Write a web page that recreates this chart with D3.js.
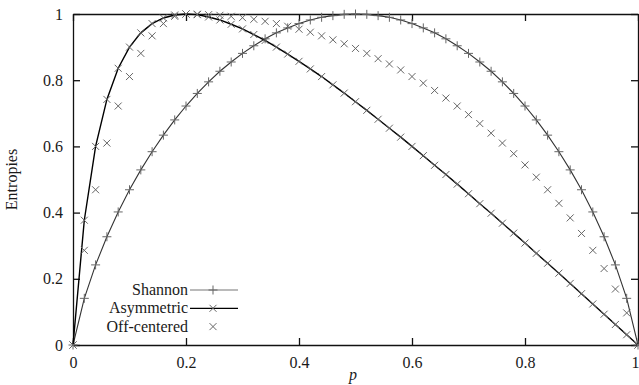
<!DOCTYPE html>
<html>
<head>
<meta charset="utf-8">
<script src="https://cdn.jsdelivr.net/npm/d3@7"></script>
<style>
  body { margin: 0; background: #fff; }
  svg { display: block; }
  .axis path, .axis line { stroke: #111; stroke-width: 1.3; }
</style>
</head>
<body>
<div id="chart"></div>
<script>
// sample positions p = 0, 0.02, ... 1
const pValues = d3.range(0, 51).map(i => i / 50);

const shannon = [0, .141, .242, .327, .402, .469, .529, .584, .634, .680,
  .722, .760, .795, .827, .855, .881, .904, .925, .943, .958,
  .971, .982, .990, .995, .999, 1, .999, .995, .990, .982,
  .971, .958, .943, .925, .904, .881, .855, .827, .795, .760,
  .722, .680, .634, .584, .529, .469, .402, .327, .242, .141, 0];

const asymmetric = [0, .377, .600, .742, .836, .900, .943, .971, .988, .997,
  1, .998, .991, .982, .969, .955, .938, .920, .900, .879,
  .857, .834, .811, .786, .761, .735, .709, .682, .655, .628,
  .600, .572, .543, .515, .486, .457, .427, .398, .368, .338,
  .308, .277, .247, .217, .186, .155, .124, .093, .062, .031, 0];

const offCentered = [0, .286, .469, .610, .722, .811, .881, .934, .971, .993,
  1, .9995, .998, .996, .993, .989, .984, .978, .971, .963,
  .954, .945, .934, .922, .910, .896, .881, .865, .849, .831,
  .811, .791, .769, .746, .722, .696, .669, .640, .610, .578,
  .544, .507, .469, .428, .384, .337, .286, .231, .169, .097, 0];

const xTicks = [0, 0.2, 0.4, 0.6, 0.8, 1];
const yTicks = [0, 0.2, 0.4, 0.6, 0.8, 1];
const legendNames = ["Shannon", "Asymmetric", "Off-centered"];

const serif = "'Liberation Serif', 'DejaVu Serif', serif";
const fontSize = "16px";

const width = 639, height = 385;
const svg = d3.select("#chart").append("svg")
  .attr("width", width).attr("height", height);

const x = d3.scaleLinear().domain([0, 1]).range([73, 638]);
const y = d3.scaleLinear().domain([0, 1]).range([345, 14]);

const fmt = d => d === 0 ? "0" : d === 1 ? "1" : d3.format(".1f")(d);

const xAxis = svg.append("g").attr("class", "axis")
  .attr("transform", `translate(0,${y(0)})`)
  .call(d3.axisBottom(x).tickValues(xTicks).tickFormat(fmt).tickSize(-7).tickSizeOuter(0).tickPadding(12));
// the last label sits on the window edge, keep it inside
xAxis.selectAll(".tick text").filter(d => d === 1).attr("text-anchor", "end").attr("x", 1);

svg.append("g").attr("class", "axis")
  .attr("transform", `translate(0,${y(1)})`)
  .call(d3.axisTop(x).tickValues(xTicks).tickFormat("").tickSize(-7).tickSizeOuter(0));
svg.append("g").attr("class", "axis")
  .attr("transform", `translate(${x(0)},0)`)
  .call(d3.axisLeft(y).tickValues(yTicks).tickFormat(fmt).tickSize(-7).tickSizeOuter(0).tickPadding(10));
svg.append("g").attr("class", "axis")
  .attr("transform", `translate(${x(1)},0)`)
  .call(d3.axisRight(y).tickValues(yTicks).tickFormat("").tickSize(-7).tickSizeOuter(0));

svg.selectAll(".axis").attr("font-family", null).attr("font-size", null);
svg.selectAll(".axis .domain").attr("stroke-width", 1.4);

// axis titles
svg.append("text")
  .attr("x", 353).attr("y", 380)
  .attr("text-anchor", "middle")
  .style("font-style", "italic")
  .text("p");
svg.append("text")
  .attr("transform", `translate(17,${(y(0) + y(1)) / 2}) rotate(-90)`)
  .attr("text-anchor", "middle")
  .text("Entropies");

const line = d3.line().x((d, i) => x(pValues[i])).y(d => y(d));

const plusPath = s => `M${-s},0H${s}M0,${-s}V${s}`;
const crossPath = s => `M${-s},${-s}L${s},${s}M${-s},${s}L${s},${-s}`;

const markerColor = "#666";

function drawMarkers(data, path) {
  svg.append("g").selectAll("path")
    .data(data).join("path")
    .attr("transform", (d, i) => `translate(${x(pValues[i])},${y(d)})`)
    .attr("d", path)
    .attr("fill", "none")
    .attr("stroke", markerColor)
    .attr("stroke-width", 1);
}

// Shannon
svg.append("path").datum(shannon)
  .attr("d", line).attr("fill", "none")
  .attr("stroke", "#333").attr("stroke-width", 1.1);
drawMarkers(shannon, plusPath(4.5));

// Asymmetric
svg.append("path").datum(asymmetric)
  .attr("d", line).attr("fill", "none")
  .attr("stroke", "#000").attr("stroke-width", 1.4);
drawMarkers(asymmetric, crossPath(3.5));

// Off-centered
drawMarkers(offCentered, crossPath(3.5));

// legend
const legend = svg.append("g");
const rowY = [290, 308.3, 326.6];
legendNames.forEach((name, i) => {
  legend.append("text")
    .attr("x", 188).attr("y", rowY[i] + 5)
    .attr("text-anchor", "end")
    .text(name);
  if (i < 2) {
    legend.append("line")
      .attr("x1", 190).attr("x2", 238)
      .attr("y1", rowY[i]).attr("y2", rowY[i])
      .attr("stroke", i === 0 ? "#777" : "#000")
      .attr("stroke-width", 1.2);
  }
  legend.append("path")
    .attr("transform", `translate(213,${rowY[i]})`)
    .attr("d", i === 0 ? plusPath(4.5) : crossPath(3.5))
    .attr("fill", "none").attr("stroke", markerColor).attr("stroke-width", 1);
});

svg.selectAll("text")
  .style("font-family", serif)
  .style("font-size", fontSize)
  .attr("fill", "#1a1a1a");
</script>
</body>
</html>
